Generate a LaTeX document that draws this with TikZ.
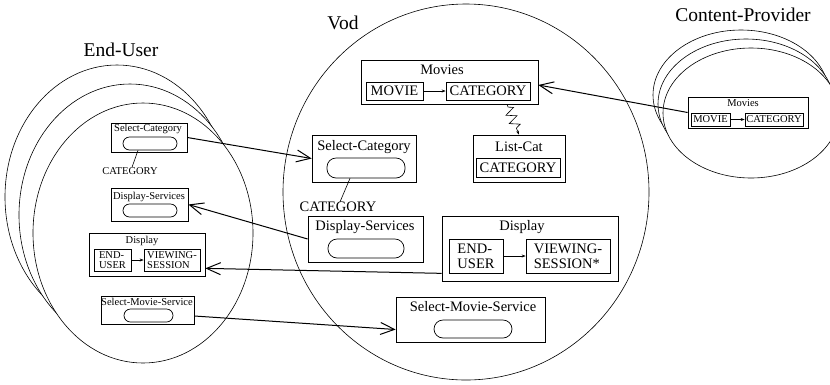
\documentclass[tikz,border=0pt]{standalone}
\usepackage{fontspec}
\setmainfont{Liberation Serif}
\usetikzlibrary{arrows.meta,decorations.pathmorphing,calc}
\begin{document}
\begin{tikzpicture}[x=1pt,y=-1pt,
  big/.style={font=\fontsize{19.5}{22}\selectfont, inner sep=0pt},
  bx/.style={draw, line width=0.7pt, inner sep=0pt},
  vtxt/.style={font=\fontsize{14.5}{15}\selectfont, inner sep=0pt},
  etxt/.style={font=\fontsize{10.5}{10.5}\selectfont, inner sep=0pt},
  pill/.style={draw, line width=0.7pt, inner sep=0pt, rounded corners=#1},
  ell/.style={draw, line width=0.6pt, fill=white},
  flow/.style={line width=1pt, -{Straight Barb[length=14pt,width=12pt,line width=1pt]}},
  smallarr/.style={line width=0.7pt, -{Stealth[length=4pt,width=3pt]}}
]
\useasboundingbox (0,0) rectangle (830,384);

% ---------- ellipses ----------
\draw[ell] (117,197) ellipse [x radius=112, y radius=132];
\draw[ell] (130,215) ellipse [x radius=111, y radius=131];
\draw[ell] (143,233) ellipse [x radius=110, y radius=130];
\draw[ell] (466,192) ellipse [x radius=183, y radius=188];
\draw[ell] (741,95) ellipse [x radius=88, y radius=65];
\draw[ell] (746,104) ellipse [x radius=88, y radius=65];
\draw[ell] (751,113) ellipse [x radius=88, y radius=65];

% ---------- titles ----------
\node[big] (teu) at (121,50) {End-User};
\node[big] (tvod) at (343,23) {Vod};
\node[big] (tcp) at (743,15) {Content-Provider};

% ---------- Vod ----------
\node[bx, minimum width=177pt, minimum height=44pt] (vmov) at (449.5,82) {};
\node[vtxt] (vmovl) at (442,70) {Movies};
\node[bx, vtxt, minimum width=57pt, minimum height=18pt] (vmmov) at (394.5,91) {MOVIE};
\node[bx, vtxt, minimum width=84pt, minimum height=18pt] (vmcat) at (488,91) {CATEGORY};

\node[bx, minimum width=92pt, minimum height=47pt] (vlc) at (519,158.5) {};
\node[vtxt] (vlcl) at (519,147) {List-Cat};
\node[bx, vtxt, minimum width=84pt, minimum height=19pt] (vlccat) at (518,167.5) {CATEGORY};

\node[bx, minimum width=104pt, minimum height=47pt] (vsc) at (364,158.5) {};
\node[vtxt] (vscl) at (364,147) {Select-Category};
\node[pill=9pt, minimum width=78pt, minimum height=20pt] (vscp) at (366,168) {};
\node[vtxt] (vcatl) at (338,207) {CATEGORY};

\node[bx, minimum width=115pt, minimum height=46pt] (vds) at (365.5,239) {};
\node[vtxt] (vdsl) at (365,227) {Display-Services};
\node[pill=9pt, minimum width=76pt, minimum height=19pt] (vdsp) at (366,248.5) {};

\node[bx, minimum width=176pt, minimum height=65pt] (vdisp) at (530,248.5) {};
\node[vtxt] (vdispl) at (522,227) {Display};
\node[bx, vtxt, align=left, minimum width=54pt, minimum height=34pt] (veu) at (476,256) {END-\\USER};
\node[bx, vtxt, align=left, minimum width=84pt, minimum height=34pt] (vvs) at (568,256) {VIEWING-\\SESSION*};

\node[bx, minimum width=149pt, minimum height=45pt] (vsms) at (470.5,319.5) {};
\node[vtxt] (vsmsl) at (473,307) {Select-Movie-Service};
\node[pill=9pt, minimum width=78pt, minimum height=18pt] (vsmsp) at (473,329) {};

% ---------- End-User ----------
\node[bx, minimum width=76pt, minimum height=29pt] (esc) at (149,137.5) {};
\node[etxt] (escl) at (148,129) {Select-Category};
\node[pill=6.5pt, minimum width=54pt, minimum height=13pt] (escp) at (150,143.5) {};
\node[etxt] (ecatl) at (130,171) {CATEGORY};

\node[bx, minimum width=77pt, minimum height=33pt] (eds) at (149.5,204.5) {};
\node[etxt] (edsl) at (149,197) {Display-Services};
\node[pill=6.5pt, minimum width=54pt, minimum height=13pt] (edsp) at (150,210.5) {};

\node[bx, minimum width=116pt, minimum height=43pt] (edisp) at (147,254.5) {};
\node[etxt] (edispl) at (142,241) {Display};
\node[bx, etxt, align=left, minimum width=37pt, minimum height=22pt] (eeu) at (112.5,260) {END-\\USER};
\node[bx, etxt, align=left, minimum width=56pt, minimum height=22pt] (evs) at (172,260) {VIEWING-\\SESSION};

\node[bx, minimum width=93pt, minimum height=28pt] (esms) at (147.5,310) {};
\node[etxt] (esmsl) at (147,302) {Select-Movie-Service};
\node[pill=6.5pt, minimum width=49pt, minimum height=13pt] (esmsp) at (148.5,315.5) {};

% ---------- Content-Provider ----------
\node[bx, minimum width=120pt, minimum height=31pt] (cmov) at (748,112.5) {};
\node[etxt] (cmovl) at (743,103) {Movies};
\node[bx, etxt, minimum width=39pt, minimum height=13pt] (cmmov) at (710.5,119.5) {MOVIE};
\node[bx, etxt, minimum width=58pt, minimum height=13pt] (cmcat) at (774,119.5) {CATEGORY};

% ---------- inner connectors ----------
\draw[smallarr] (vmmov) -- (vmcat);
\draw[smallarr] (veu) -- (vvs);
\draw[smallarr] (eeu) -- (evs);
\draw[smallarr] (cmmov) -- (cmcat);

\path ([xshift=19pt]vmcat.south) coordinate (zx);
\coordinate (zs) at (zx |- vmov.south);
\draw[line width=0.6pt, decorate,
  decoration={zigzag, segment length=9pt, amplitude=5pt, pre length=3pt, post length=4pt},
  -{Stealth[length=4pt,width=3pt]}] (zs) -- (vlc.north);

\draw[line width=0.6pt] ([xshift=-16pt]vscp.south) -- ([xshift=2pt]vcatl.north);
\draw[line width=0.6pt] ([xshift=-12pt]escp.south) -- ([xshift=2pt]ecatl.north);

% ---------- flows ----------
\draw[flow] (esc.east) -- (vsc.west);
\draw[flow] (vds.west) -- (eds.east);
\draw[flow] ([yshift=8pt]vdisp.south west) -- ([yshift=8pt]edisp.south east);
\draw[flow] ([yshift=-6pt]esms.east) -- ([yshift=-10pt]vsms.west);
\draw[flow] (cmov.west) -- ([yshift=-3pt]vmov.east);
\end{tikzpicture}
\end{document}
